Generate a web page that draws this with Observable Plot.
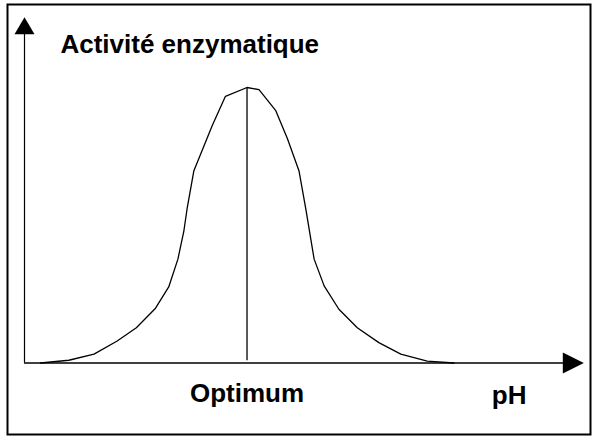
<!DOCTYPE html>
<html>
<head>
<meta charset="utf-8">
<script src="https://cdn.jsdelivr.net/npm/d3@7"></script>
<script src="https://cdn.jsdelivr.net/npm/@observablehq/plot@0.6"></script>
<style>
  html, body { margin: 0; padding: 0; background: #fff; }
  #chart svg { display: block; }
</style>
</head>
<body>
<div id="chart"></div>
<script>
// Bell-shaped enzymatic activity curve (x: pH in arbitrary units, y: activity %)
const phValues = [0.40, 1.11, 1.74, 2.32, 2.80, 3.28, 3.61, 3.84, 3.99, 4.07, 4.24, 4.70, 5.03, 5.57,
                  5.87, 6.29, 6.58, 6.87, 7.04, 7.25, 7.50, 7.87, 8.33, 8.87, 9.42, 10.08, 10.75];
const activity = [0, 1.0, 3.2, 8.0, 12.8, 19.9, 27.6, 37.7, 48.0, 56.0, 69.8, 86.2, 96.8, 100,
                  99.2, 91.6, 81.5, 69.8, 56.0, 37.7, 28.0, 19.5, 12.8, 7.4, 3.2, 0.7, 0];
const optimumPH = 5.57;
const optimumActivity = 100;
const axisEndX = 14;      // pH axis arrow tip
const axisEndY = 125.5;   // activity axis arrow tip
const yLabel = "Activité enzymatique";
const optimumLabel = "Optimum";
const xLabel = "pH";

const curve = phValues.map((x, i) => ({x, y: activity[i]}));

// custom filled arrow-head symbols (tip at origin, pointing up)
const headUp = {draw(ctx) { ctx.moveTo(0, 0); ctx.lineTo(-10, 17); ctx.lineTo(10, 17); ctx.closePath(); }};
const headRight = {draw(ctx) { ctx.moveTo(0, 0); ctx.lineTo(-10.5, 21); ctx.lineTo(10.5, 21); ctx.closePath(); }};

const font = "'Liberation Sans', Arial, sans-serif";

const chart = Plot.plot({
  width: 592,
  height: 437,
  marginLeft: 7,
  marginTop: 4,
  marginRight: 2,
  marginBottom: 3,
  style: {background: "#fff", fontFamily: font},
  x: {domain: [0, axisEndX], range: [24, 583.3], axis: null},
  y: {domain: [0, 100], range: [362.5, 87], axis: null},
  marks: [
    Plot.frame({stroke: "#000", strokeWidth: 2}),
    // axes
    Plot.ruleY([0], {x1: 0, x2: axisEndX - 0.5, stroke: "#000", strokeWidth: 1.5}),
    Plot.ruleX([0], {y1: 0, y2: axisEndY - 6, stroke: "#000", strokeWidth: 1.2}),
    Plot.dot([{x: 0, y: axisEndY}], {x: "x", y: "y", symbol: headUp, fill: "#000", stroke: "none", r: 10}),
    Plot.dot([{x: axisEndX, y: 0}], {x: "x", y: "y", symbol: headRight, fill: "#000", stroke: "none", r: 10, rotate: 90}),
    // optimum rule
    Plot.ruleX([optimumPH], {y1: 0.8, y2: optimumActivity, stroke: "#000", strokeWidth: 1.3}),
    // curve
    Plot.line(curve, {x: "x", y: "y", stroke: "#000", strokeWidth: 1.3}),
    // labels
    Plot.text([yLabel], {x: 0.90, y: 112.7, text: d => d, textAnchor: "start", lineAnchor: "bottom",
      fontSize: 26, fontWeight: "bold", fill: "#000"}),
    Plot.text([optimumLabel], {x: optimumPH, y: -14.2, text: d => d, textAnchor: "middle", lineAnchor: "bottom",
      fontSize: 26, fontWeight: "bold", fill: "#000"}),
    Plot.text([xLabel], {x: 12.13, y: -14.8, text: d => d, textAnchor: "middle", lineAnchor: "bottom",
      fontSize: 26, fontWeight: "bold", fill: "#000"})
  ]
});
document.getElementById("chart").appendChild(chart);
</script>
</body>
</html>
